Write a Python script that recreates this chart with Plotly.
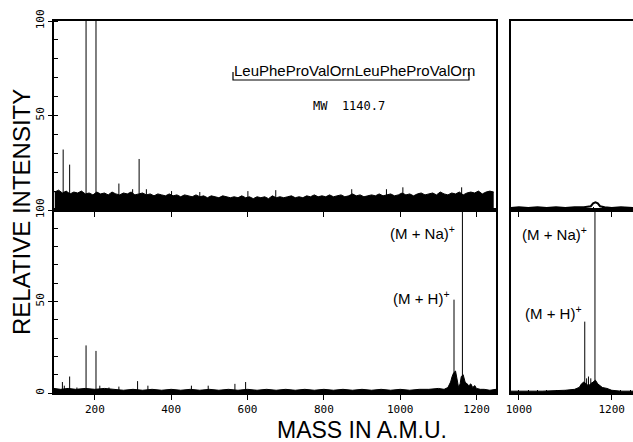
import plotly.graph_objects as go

# ---------------- data ----------------
# Upper trace, full scan: upper envelope of the dense noise band (every 10 u)
top_noise_mass = list(range(95, 1255, 10))
top_noise_int = [9.5, 10.5, 9, 10, 8.5, 9.5, 9, 10, 8.5, 9, 8, 9.5, 8.5, 9, 8, 9.5,
                 8.5, 8, 9, 8.5, 9.5, 8, 8.5, 9, 8, 8.5, 7.5, 8.5, 8, 7.5, 8.5, 7.5,
                 8, 7, 8, 7.5, 7, 8, 7, 7.5, 6.5, 7.5, 7, 6.5, 7.5, 7, 6.5, 7,
                 6.5, 7.5, 6.5, 7, 6, 7, 6.5, 7, 6, 7.5, 6.5, 7, 6.5, 7, 7.5, 6.5,
                 7, 6.5, 7.5, 7, 8, 7, 7.5, 7, 8, 7, 7.5, 8, 7, 7.5, 8.5, 7.5,
                 8, 7, 7.5, 8, 7.5, 8.5, 7.5, 8, 8.5, 7.5, 8, 9, 8, 8.5, 7.5, 8.5,
                 9, 8, 8.5, 9, 8, 9.5, 8.5, 8, 9, 8.5, 9.5, 8, 9, 9.5, 9, 10,
                 8.5, 9.5, 10, 9.5]
top_peak_mass = [117, 134, 177, 203, 263, 299, 316, 335, 401, 475, 601, 674, 873, 964, 1007, 1161]
top_peak_int = [32, 24, 100, 100, 14, 11, 27, 11, 10, 9.5, 10, 10.5, 11, 11, 12, 12]

# Lower trace, full scan
bot_noise_mass = [93, 110, 130, 150, 175, 200, 225, 250, 275, 300, 325, 350, 375, 400, 425, 450,
                  475, 500, 525, 550, 575, 600, 625, 650, 675, 700, 725, 750, 775, 800, 825, 850,
                  875, 900, 925, 950, 975, 1000, 1025, 1050, 1075, 1100, 1115, 1125, 1132, 1136,
                  1140, 1145, 1150, 1153, 1157, 1160, 1165, 1170, 1175, 1180, 1185, 1190, 1195,
                  1200, 1210, 1220, 1235, 1251]
bot_noise_int = [2.5, 2, 2.5, 2, 2.5, 2, 2.5, 2, 1.5, 2, 1.5, 2, 1.5, 2, 1.5, 2,
                 1.5, 2, 1.5, 2, 1.5, 2, 1.5, 2, 1.5, 2, 1.5, 2, 1.5, 2, 1.5, 2,
                 1.5, 2, 1.5, 2, 1.5, 2, 1.5, 2, 2, 2.5, 2, 3, 6, 9,
                 11, 12, 7, 3, 5, 9, 10, 6, 5, 4, 5, 3, 4,
                 2.5, 2, 2, 1.5, 2]
bot_peak_mass = [115, 120, 134, 153, 177, 203, 213, 237, 263, 312, 339, 453, 497, 567, 595,
                 1141, 1163, 1176, 1186, 1196]
bot_peak_int = [6, 4, 9, 3, 26, 23, 4, 3, 3.5, 6.5, 4, 4, 4, 5, 6,
                51, 100, 5, 4, 4]

# Upper trace, expanded scan (right)
tr_mass = [983, 1000, 1020, 1040, 1060, 1080, 1100, 1120, 1140, 1155, 1160, 1165, 1170, 1175,
           1185, 1200, 1220, 1246]
tr_int = [1, 1.5, 1, 1.5, 1, 1.5, 1, 1.5, 1.5, 2, 3.5, 4, 3.5, 2, 1.5, 1, 1.5, 1]

# Lower trace, expanded scan (right)
br_noise_mass = [983, 1000, 1050, 1100, 1120, 1130, 1135, 1140, 1145, 1150, 1155, 1160, 1165,
                 1170, 1175, 1180, 1190, 1200, 1220, 1246]
br_noise_int = [1, 1, 1, 1.5, 2, 3, 5, 6, 5, 4, 5, 6, 7, 5, 4, 3, 2.5, 1.5, 1, 1]
br_peak_mass = [1128, 1142, 1146, 1150, 1155, 1158, 1164, 1172, 1180]
br_peak_int = [3, 39, 8, 9, 8, 6, 100, 4, 3]

x_tick_vals = [200, 400, 600, 800, 1000, 1200]
x_tick_text = ["200", "400", "600", "800", "1000", "1200"]
rx_tick_vals = [1000, 1200]
rx_tick_text = ["1000", "1200"]
y_top_vals = [50, 100]
y_top_text = ["50", "100"]
y_bot_vals = [0, 50, 100]
y_bot_text = ["0", "50", "100"]

# ---------------- figure ----------------
W, H = 633, 442
BLACK = "#000000"


def sticks(masses, heights):
    xs, ys = [], []
    for m, h in zip(masses, heights):
        xs += [m, m, None]
        ys += [0, h, None]
    return xs, ys


fig = go.Figure()

# bottom-left (x, y)
fig.add_trace(go.Scatter(x=bot_noise_mass, y=bot_noise_int, mode="lines", fill="tozeroy",
                         line=dict(color=BLACK, width=1), fillcolor=BLACK,
                         xaxis="x", yaxis="y", hoverinfo="skip"))
sx, sy = sticks(bot_peak_mass, bot_peak_int)
fig.add_trace(go.Scatter(x=sx, y=sy, mode="lines", line=dict(color=BLACK, width=1),
                         xaxis="x", yaxis="y", hoverinfo="skip"))

# top-left (x2, y2)
fig.add_trace(go.Scatter(x=top_noise_mass, y=top_noise_int, mode="lines", fill="tozeroy",
                         line=dict(color=BLACK, width=1), fillcolor=BLACK,
                         xaxis="x2", yaxis="y2", hoverinfo="skip"))
sx, sy = sticks(top_peak_mass, top_peak_int)
fig.add_trace(go.Scatter(x=sx, y=sy, mode="lines", line=dict(color=BLACK, width=1),
                         xaxis="x2", yaxis="y2", hoverinfo="skip"))

# bottom-right (x3, y3)
fig.add_trace(go.Scatter(x=br_noise_mass, y=br_noise_int, mode="lines", fill="tozeroy",
                         line=dict(color=BLACK, width=1), fillcolor=BLACK,
                         xaxis="x3", yaxis="y3", hoverinfo="skip"))
sx, sy = sticks(br_peak_mass, br_peak_int)
fig.add_trace(go.Scatter(x=sx, y=sy, mode="lines", line=dict(color=BLACK, width=1),
                         xaxis="x3", yaxis="y3", hoverinfo="skip"))

# top-right (x4, y4)
fig.add_trace(go.Scatter(x=tr_mass, y=tr_int, mode="lines", line=dict(color=BLACK, width=2),
                         xaxis="x4", yaxis="y4", hoverinfo="skip"))

# domains in pixel terms
LX = [54 / W, 496 / W]
RX = [511 / W, 1.0]
TY = [1 - 210 / H, 1 - 21 / H]
BY = [1 - 393 / H, 1 - 210 / H]

tickfont = dict(family="DejaVu Sans Mono", size=11, color=BLACK)

common_x = dict(showline=True, linecolor=BLACK, linewidth=1.5, showgrid=False, zeroline=False,
                ticks="outside", ticklen=5, tickwidth=1.2, tickcolor=BLACK,
                minor=dict(ticks="inside", ticklen=3, tickwidth=1, tickcolor=BLACK,
                           tick0=0, dtick=20, showgrid=False),
                tickfont=tickfont, automargin=False, fixedrange=True)
common_y = dict(showline=True, linecolor=BLACK, linewidth=1.5, showgrid=False, zeroline=False,
                automargin=False, fixedrange=True, range=[0, 100])

fig.update_layout(
    width=W, height=H,
    margin=dict(l=0, r=0, t=0, b=0),
    paper_bgcolor="white", plot_bgcolor="white",
    showlegend=False,
    xaxis=dict(common_x, domain=LX, range=[93, 1251], anchor="y", mirror=True,
               tickmode="array", tickvals=x_tick_vals, ticktext=x_tick_text),
    yaxis=dict(common_y, domain=BY, anchor="x", mirror=True,
               tickmode="array", tickvals=y_bot_vals, ticktext=y_bot_text,
               ticks="outside", ticklen=4, tickcolor=BLACK, tickangle=-90, tickfont=tickfont,
               minor=dict(ticks="inside", ticklen=4, tickcolor=BLACK, tick0=0, dtick=10)),
    xaxis2=dict(common_x, domain=LX, range=[93, 1251], anchor="y2", mirror=True,
                tickmode="array", tickvals=x_tick_vals, showticklabels=False),
    yaxis2=dict(common_y, domain=TY, anchor="x2", mirror=True,
                tickmode="array", tickvals=y_top_vals, ticktext=y_top_text,
                ticks="outside", ticklen=4, tickcolor=BLACK, tickangle=-90, tickfont=tickfont,
                minor=dict(ticks="inside", ticklen=4, tickcolor=BLACK, tick0=0, dtick=10)),
    xaxis3=dict(common_x, domain=RX, range=[983, 1246], anchor="y3", mirror=True,
                tickmode="array", tickvals=rx_tick_vals, ticktext=rx_tick_text),
    yaxis3=dict(common_y, domain=BY, anchor="x3", showticklabels=False, ticks=""),
    xaxis4=dict(common_x, domain=RX, range=[983, 1246], anchor="y4", mirror=True,
                tickmode="array", tickvals=rx_tick_vals, showticklabels=False),
    yaxis4=dict(common_y, domain=TY, anchor="x4", showticklabels=False, ticks=""),
)

label_font = dict(family="Liberation Sans, Arial", size=15, color=BLACK)
annos = [
    dict(text="(M + Na)<sup>+</sup>", x=457 / W, y=1 - 232 / H, xanchor="right", yanchor="middle"),
    dict(text="(M + H)<sup>+</sup>", x=452 / W, y=1 - 297 / H, xanchor="right", yanchor="middle"),
    dict(text="(M + Na)<sup>+</sup>", x=520 / W, y=1 - 233 / H, xanchor="left", yanchor="middle"),
    dict(text="(M + H)<sup>+</sup>", x=523 / W, y=1 - 312 / H, xanchor="left", yanchor="middle"),
]
for a in annos:
    fig.add_annotation(xref="paper", yref="paper", showarrow=False, font=label_font, **a)

# peptide sequence and bracket
fig.add_annotation(xref="paper", yref="paper", x=354 / W, y=1 - 60 / H, showarrow=False,
                   text="LeuPheProValOrnLeuPheProValOrn",
                   font=dict(family="Liberation Sans, Arial", size=15, color=BLACK))
fig.add_annotation(xref="paper", yref="paper", x=349 / W, y=1 - 97 / H, showarrow=False,
                   text="MW  1140.7",
                   font=dict(family="DejaVu Sans Mono", size=12, color=BLACK))
fig.add_shape(type="path", xref="paper", yref="paper",
              path=f"M {233 / W} {1 - 72 / H} L {233 / W} {1 - 80 / H} L {469 / W} {1 - 80 / H} L {469 / W} {1 - 72 / H}",
              line=dict(color=BLACK, width=1.2))

# axis titles
fig.add_annotation(xref="paper", yref="paper", x=21 / W, y=1 - 212 / H, showarrow=False,
                   text="RELATIVE INTENSITY", textangle=-90,
                   font=dict(family="Liberation Sans, Arial", size=24, color=BLACK),
                   xanchor="center", yanchor="middle")
fig.add_annotation(xref="paper", yref="paper", x=362 / W, y=1 - 430 / H, showarrow=False,
                   text="MASS IN A.M.U.",
                   font=dict(family="Liberation Sans, Arial", size=23, color=BLACK),
                   xanchor="center", yanchor="middle")

fig.write_html("out.html", config={"displayModeBar": False},
               post_script="document.body.style.margin='0';")
